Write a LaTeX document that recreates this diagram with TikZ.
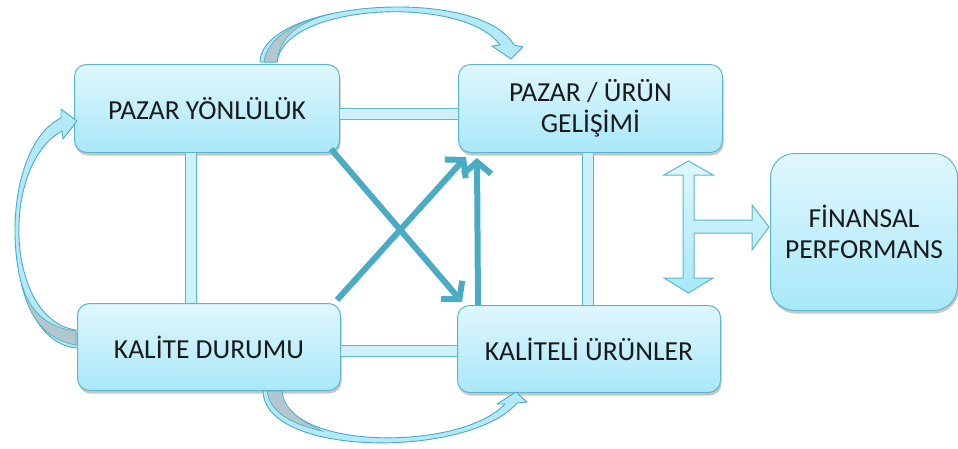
\documentclass[tikz,border=0pt]{standalone}
\usepackage{fontspec}
\setmainfont{Carlito}
\usetikzlibrary{arrows.meta,shadows}
\definecolor{boxtop}{HTML}{E0F7FD}
\definecolor{boxbot}{HTML}{A8E8F9}
\definecolor{boxline}{HTML}{5DB6CF}
\definecolor{darkarrow}{HTML}{4AABC5}
\definecolor{barfill}{HTML}{CDF1FB}
\definecolor{curvefill}{HTML}{B3E9F8}
\definecolor{greyside}{HTML}{B2C6CD}
\definecolor{txt}{HTML}{1A1A1A}
\begin{document}
\begin{tikzpicture}[x=1pt,y=-1pt,
  box/.style={draw=boxline, line width=1pt, rounded corners=12pt,
    top color=boxtop, bottom color=boxbot, inner sep=0pt, anchor=north west,
    align=center, text=txt, font=\fontsize{27.5}{31}\selectfont,
    drop shadow={shadow xshift=1pt, shadow yshift=-3pt, opacity=0.22, fill=black}},
  bar/.style={draw=boxline, line width=1pt, double=barfill, double distance=10pt},
  diagarrow/.style={draw=darkarrow, line width=6pt, -{Straight Barb[length=12pt,width=28pt]}},
  blockarrow/.style={draw=boxline, line width=1pt, top color=boxtop, bottom color=boxbot, line join=miter},
  curvearrow/.style={draw=darkarrow, line width=0.9pt, fill=curvefill, line join=round},
  greypart/.style={fill=greyside, draw=darkarrow, line width=0.6pt}]
\useasboundingbox (0,0) rectangle (958,448);
\fill[white] (0,0) rectangle (958,448);

% boxes
\node[box, minimum width=265pt, minimum height=88pt] (py) at (74,64) {PAZAR YÖNLÜLÜK};
\node[box, minimum width=264pt, minimum height=88pt] (pu) at (458,64) {PAZAR / ÜRÜN\\GELİŞİMİ};
\node[box, minimum width=263pt, minimum height=87pt] (kd) at (77,303) {KALİTE DURUMU};
\node[box, minimum width=263pt, minimum height=87pt] (ku) at (457,305) {KALİTELİ ÜRÜNLER};
\node[box, rounded corners=24pt, minimum width=187pt, minimum height=157pt] (fp) at (770,153) {FİNANSAL\\PERFORMANS};

% bars
\draw[bar] ([yshift=-5pt]py.east) -- ([yshift=-5pt]py.east -| pu.west);
\draw[bar] ([yshift=-3.5pt]kd.east) -- ([yshift=-3.5pt]kd.east -| ku.west);
\draw[bar] ([xshift=-16.5pt]py.south) -- ([xshift=-16.5pt]py.south |- kd.north);
\draw[bar] ([xshift=-3pt]pu.south) -- ([xshift=-3pt]pu.south |- ku.north);

% diagonal and vertical arrows
\draw[diagarrow] ([shift={(-9pt,4pt)}]py.south east) -- ([shift={(5pt,3pt)}]ku.north west);
\draw[diagarrow] ([shift={(-4pt,3pt)}]kd.north east) -- ([shift={(8pt,-4pt)}]pu.south west);
\draw[diagarrow] ([xshift=21pt]ku.north west) -- ([shift={(19pt,-5pt)}]pu.south west);

% H-shaped block arrow
\draw[blockarrow] (683,175) -- (664,175) -- (688.5,161) -- (713,175) -- (694,175)
  -- (694,220) -- (752,220) -- (752,205) -- (769,227) -- (752,250) -- (752,233)
  -- (694,233) -- (694,278) -- (713,278) -- (688.5,293) -- (664,278) -- (683,278) -- cycle;

% top curved arrow
\draw[curvearrow] (260,62) .. controls (262,0) and (480,-15) .. (514,45)
  -- (523,47) -- (511,59) -- (492,46) -- (500,45)
  .. controls (465,-5) and (285,2) .. (277,62) -- cycle;
\draw[greypart] (264,62) .. controls (267,38) and (295,22) .. (330,14)
  .. controls (300,22) and (280,35) .. (277,62) -- cycle;

% left curved arrow
\draw[curvearrow] (76,348) .. controls (0,340) and (-5,150) .. (61,118)
  -- (61,109) -- (77,121) -- (63,139) -- (62,131)
  .. controls (0,165) and (5,320) .. (76,330) -- cycle;
\draw[greypart] (76,345) .. controls (45,340) and (28,315) .. (22,285)
  .. controls (30,312) and (48,328) .. (76,331) -- cycle;

% bottom curved arrow
\draw[curvearrow] (263,391) .. controls (265,458) and (470,458) .. (517,403)
  -- (527,402) -- (516,392) -- (497,404) -- (505,404)
  .. controls (460,452) and (285,450) .. (282,391) -- cycle;
\draw[greypart] (267,391) .. controls (270,413) and (292,424) .. (322,431)
  .. controls (300,420) and (284,410) .. (282,391) -- cycle;
\end{tikzpicture}
\end{document}
